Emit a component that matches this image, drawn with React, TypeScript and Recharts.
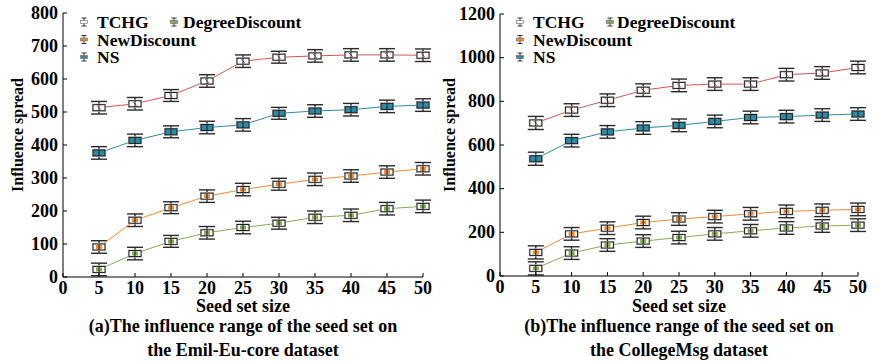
import React from 'react';
import { LineChart, Line, XAxis, YAxis, ErrorBar } from 'recharts';

const FONT = "'Liberation Serif', 'DejaVu Serif', serif";
const TEXT_STYLE: React.CSSProperties = { fontFamily: FONT, fontWeight: 700 };

const SEED_SIZES = [5, 10, 15, 20, 25, 30, 35, 40, 45, 50];
const X_TICKS = [0, 5, 10, 15, 20, 25, 30, 35, 40, 45, 50];

// (a) Emil-Eu-core
const EMAIL_Y_TICKS = [0, 100, 200, 300, 400, 500, 600, 700, 800];
const tchgEmail = [513, 525, 550, 594, 654, 666, 670, 673, 673, 672];
const degreeDiscountEmail = [23, 71, 108, 134, 150, 163, 181, 187, 207, 214];
const newDiscountEmail = [91, 172, 210, 245, 265, 281, 296, 306, 318, 328];
const nsEmail = [376, 414, 440, 453, 461, 496, 503, 507, 517, 521];
const emailErr = [19, 19, 18, 19, 19, 18, 19, 19, 19, 19];

// (b) CollegeMsg
const COLLEGE_Y_TICKS = [0, 200, 400, 600, 800, 1000, 1200];
const tchgCollege = [701, 760, 805, 851, 873, 879, 879, 922, 930, 955];
const degreeDiscountCollege = [35, 105, 142, 160, 176, 193, 207, 220, 229, 233];
const newDiscountCollege = [108, 193, 219, 245, 261, 272, 285, 296, 301, 305];
const nsCollege = [537, 620, 660, 678, 690, 708, 726, 730, 737, 742];
const collegeErr = [30, 29, 29, 29, 29, 29, 29, 29, 29, 29];

const SERIES = [
  { key: 'tchg', name: 'TCHG', color: '#d9534f', boxFill: '#ffffff', mark: 'slash' },
  { key: 'degreeDiscount', name: 'DegreeDiscount', color: '#8aab52', boxFill: '#ffffff', mark: 'inner' },
  { key: 'newDiscount', name: 'NewDiscount', color: '#f08a35', boxFill: '#ffffff', mark: 'inner' },
  { key: 'ns', name: 'NS', color: '#2f8aa6', boxFill: '#2f8aa6', mark: 'none' },
] as const;

type Row = Record<string, number>;

const buildRows = (
  tchg: number[],
  dd: number[],
  nd: number[],
  ns: number[],
  err: number[]
): Row[] =>
  SEED_SIZES.map((size, i) => ({
    size,
    tchg: tchg[i],
    degreeDiscount: dd[i],
    newDiscount: nd[i],
    ns: ns[i],
    err: err[i],
  }));

const emailRows = buildRows(tchgEmail, degreeDiscountEmail, newDiscountEmail, nsEmail, emailErr);
const collegeRows = buildRows(tchgCollege, degreeDiscountCollege, newDiscountCollege, nsCollege, collegeErr);

const makeDot = (color: string, boxFill: string, mark: string) => (props: any) => {
  const { cx, cy, index } = props;
  if (cx == null || cy == null) return null;
  return (
    <g key={`dot-${index}`}>
      <rect x={cx - 6.5} y={cy - 3.5} width={13} height={7} fill="none" stroke="#c4c4c4" strokeWidth={1.2} />
      <rect x={cx - 6} y={cy - 3} width={12} height={6} fill={boxFill} stroke="#1a1a1a" strokeWidth={1} />
      {mark === 'inner' && <rect x={cx - 3} y={cy - 2} width={6} height={4} fill={color} />}
      {mark === 'slash' && <line x1={cx - 2} y1={cy - 2} x2={cx + 2} y2={cy + 2} stroke={color} strokeWidth={1} />}
      <line x1={cx} x2={cx} y1={cy - 3} y2={cy + 3} stroke="#1a1a1a" strokeWidth={1} />
    </g>
  );
};

const XTick = (props: any) => {
  const { x, y, payload } = props;
  return (
    <g>
      <line x1={x} x2={x} y1={y} y2={y - 4} stroke="#000" />
      <text x={x} y={y + 17} textAnchor="middle" style={TEXT_STYLE} fontSize={18} fill="#000">
        {payload.value}
      </text>
    </g>
  );
};

const YTick = (props: any) => {
  const { x, y, payload } = props;
  return (
    <g>
      <line x1={x} x2={x + 4} y1={y} y2={y} stroke="#000" />
      <text x={x - 5} y={y + 5.5} textAnchor="end" style={TEXT_STYLE} fontSize={18} fill="#000">
        {payload.value}
      </text>
    </g>
  );
};

interface PanelProps {
  rows: Row[];
  yMax: number;
  yTicks: number[];
  yAxisWidth: number;
  top: number;
  right: number;
  bottom: number;
}

function Panel({ rows, yMax, yTicks, yAxisWidth, top, right, bottom }: PanelProps) {
  return (
    <LineChart width={440} height={363} data={rows} margin={{ top, right, bottom, left: 0 }}>
      <XAxis
        type="number"
        dataKey="size"
        domain={[0, 50]}
        ticks={X_TICKS}
        interval={0}
        height={30}
        tickSize={0}
        tickMargin={0}
        tickLine={false}
        axisLine={{ stroke: '#000' }}
        tick={<XTick />}
      />
      <YAxis
        type="number"
        domain={[0, yMax]}
        ticks={yTicks}
        interval={0}
        width={yAxisWidth}
        tickSize={0}
        tickMargin={0}
        tickLine={false}
        axisLine={{ stroke: '#000' }}
        tick={<YTick />}
      />
      {SERIES.map((s) => (
        <Line
          key={s.key}
          dataKey={s.key}
          name={s.name}
          stroke={s.color}
          strokeWidth={1}
          isAnimationActive={false}
          dot={makeDot(s.color, s.boxFill, s.mark)}
          activeDot={false}
        >
          <ErrorBar dataKey="err" width={8} stroke="#2a2a2a" strokeWidth={1.4} direction="y" />
        </Line>
      ))}
    </LineChart>
  );
}

const LegendBlock = ({ x0, x1, textGap1, textGap2 }: { x0: number; x1: number; textGap1: number; textGap2: number }) => {
  // rows: TCHG | DegreeDiscount, NewDiscount, NS
  const layout = [
    { s: SERIES[0], x: x0, gap: textGap1, y: 22 },
    { s: SERIES[1], x: x1, gap: textGap2, y: 22 },
    { s: SERIES[2], x: x0, gap: textGap1, y: 39.5 },
    { s: SERIES[3], x: x0, gap: textGap1, y: 57 },
  ];
  return (
    <g>
      {layout.map(({ s, x, gap, y }) => (
        <g key={s.key}>
          <line x1={x} x2={x} y1={y - 4} y2={y + 4} stroke="#333" />
          <line x1={x - 2.5} x2={x + 2.5} y1={y - 4} y2={y - 4} stroke="#333" />
          <line x1={x - 2.5} x2={x + 2.5} y1={y + 4} y2={y + 4} stroke="#333" />
          <rect x={x - 3.5} y={y - 1.5} width={7} height={3} fill={s.key === 'tchg' ? '#fff' : s.color} stroke="#666" strokeWidth={0.6} />
          <text x={x + gap} y={y + 6} style={TEXT_STYLE} fontSize={17.5} fill="#000">
            {s.name}
          </text>
        </g>
      ))}
    </g>
  );
};

const Caption = ({ cx, yTitleX, line1, line2 }: { cx: number; yTitleX: number; line1: string; line2: string }) => (
  <g style={TEXT_STYLE} fill="#000">
    <text x={yTitleX} y={135} fontSize={16} textAnchor="middle" dominantBaseline="central" transform={`rotate(-90 ${yTitleX} 135)`}>
      Influence spread
    </text>
    <text x={cx} y={312} fontSize={18} textAnchor="middle">
      Seed set size
    </text>
    <text x={cx} y={332} fontSize={18} textAnchor="middle">
      {line1}
    </text>
    <text x={cx} y={356} fontSize={18} textAnchor="middle">
      {line2}
    </text>
  </g>
);

export default function App() {
  return (
    <div style={{ position: 'absolute', left: 0, top: 0, width: 880, height: 363, background: '#fff', fontFamily: FONT }}>
      <div style={{ position: 'absolute', left: 0, top: 0 }}>
        <Panel rows={emailRows} yMax={800} yTicks={EMAIL_Y_TICKS} yAxisWidth={63} top={13} right={17} bottom={56} />
      </div>
      <div style={{ position: 'absolute', left: 440, top: 0 }}>
        <Panel rows={collegeRows} yMax={1200} yTicks={COLLEGE_Y_TICKS} yAxisWidth={60} top={14} right={22} bottom={57} />
      </div>
      <svg width={880} height={363} style={{ position: 'absolute', left: 0, top: 0, pointerEvents: 'none' }}>
        <LegendBlock x0={84} x1={174} textGap1={13} textGap2={9} />
        <g transform="translate(440,0)">
          <LegendBlock x0={80} x1={170} textGap1={13} textGap2={7} />
        </g>
        <Caption cx={243} yTitleX={17.5} line1="(a)The influence range of the seed set on" line2="the Emil-Eu-core dataset" />
        <Caption cx={679} yTitleX={449} line1="(b)The influence range of the seed set on" line2="the CollegeMsg dataset" />
      </svg>
    </div>
  );
}
